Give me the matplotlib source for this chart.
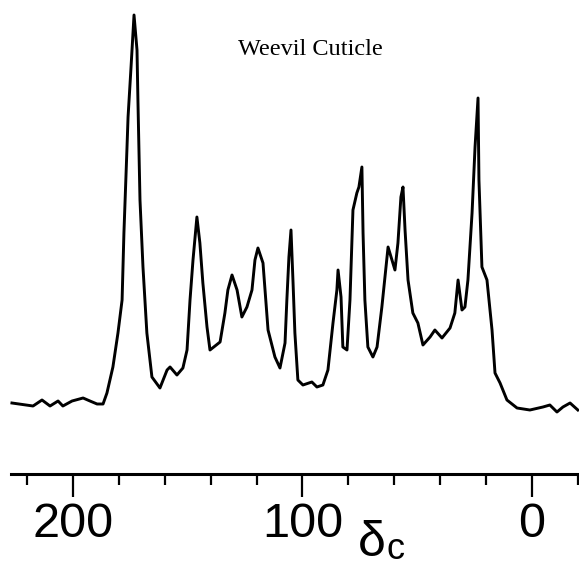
import numpy as np
import matplotlib; matplotlib.use("Agg")
import matplotlib.pyplot as plt
from matplotlib.ticker import MultipleLocator, FixedLocator

# chemical shift (ppm) and signal height (arbitrary units)
ppm = [226.6, 217.4, 213.5, 210.0, 206.5, 204.4, 200.4, 195.6, 192.6, 189.5,
       186.9, 185.2, 182.6, 180.4, 178.6, 177.8, 176.5, 176.0, 174.7, 173.4,
       172.1, 171.7, 170.8, 169.5, 167.8, 165.6, 162.1, 159.0, 157.7, 154.7,
       152.1, 150.3, 149.0, 147.7, 146.0, 144.7, 143.4, 141.6, 140.3, 135.9,
       133.8, 132.5, 130.7, 128.5, 126.4, 124.2, 122.0, 120.7, 119.4, 117.2,
       115.0, 112.0, 109.8, 107.6, 106.8, 105.9, 105.0, 104.1, 103.3, 102.0,
       99.8, 95.9, 93.7, 91.1, 88.9, 86.7, 85.0, 84.5, 83.2, 82.4,
       80.6, 79.3, 78.0, 76.3, 75.4, 74.1, 73.6, 72.8, 71.5, 69.3,
       67.5, 65.4, 62.7, 61.0, 59.7, 58.4, 57.1, 56.2, 55.3, 54.0,
       51.9, 49.7, 47.5, 44.4, 42.3, 39.2, 35.7, 33.6, 32.2, 30.5,
       29.2, 27.9, 26.1, 24.8, 23.5, 23.1, 21.8, 19.6, 17.4, 16.1,
       13.9, 10.9, 6.5, 0.9, -4.8, -7.8, -10.9, -13.5, -16.6, -20.0]
signal = [7, 4, 10, 4, 9, 4, 9, 12, 9, 6,
          6, 17, 43, 77, 110, 177, 260, 293, 343, 395,
          360, 310, 210, 143, 77, 33, 22, 40, 43, 35,
          42, 60, 110, 150, 193, 167, 127, 83, 60, 68,
          97, 120, 135, 120, 93, 103, 120, 150, 162, 147,
          80, 53, 42, 67, 110, 153, 180, 127, 77, 30,
          25, 28, 23, 25, 40, 87, 120, 140, 113, 63,
          60, 110, 200, 217, 223, 243, 177, 110, 63, 53,
          63, 103, 163, 150, 140, 167, 213, 223, 180, 130,
          97, 87, 65, 73, 80, 72, 82, 97, 130, 100,
          103, 130, 197, 263, 312, 230, 143, 130, 80, 37,
          27, 10, 2, 0, 3, 5, -2, 3, 7, 0]

major_ticks = [200, 100, 0]
tick_labels = ["200", "100", "0"]

fig = plt.figure(figsize=(5.79, 5.67), dpi=100)
ax = fig.add_axes([0, 0, 1, 1])
ax.plot(ppm, signal, color="black", lw=2.1, solid_joinstyle="round")

ax.set_xlim(231.8, -20.5)
ax.set_ylim(-157, 410)

for s in ("left", "right", "top"):
    ax.spines[s].set_visible(False)
ax.spines["bottom"].set_position(("data", -64))
ax.spines["bottom"].set_bounds(227, -20.5)
ax.spines["bottom"].set_linewidth(2.2)
ax.set_yticks([])

ax.xaxis.set_major_locator(FixedLocator(major_ticks))
ax.set_xticklabels(tick_labels, family="Liberation Sans", fontsize=35)
ax.xaxis.set_minor_locator(MultipleLocator(20))
ax.tick_params(axis="x", which="major", direction="out", length=16.5, width=1.6, pad=4)
ax.tick_params(axis="x", which="minor", direction="out", length=8, width=1.6)

# axis name: delta with subscript c
fig.text(372 / 579, 1 - 556 / 567, "δ", family="Liberation Sans", fontsize=36,
         ha="center", va="baseline")
fig.text(396 / 579, 1 - 559 / 567, "c", family="Liberation Sans", fontsize=26,
         ha="center", va="baseline")

fig.text(310 / 579, 1 - 55 / 567, "Weevil Cuticle", family="Liberation Serif",
         fontsize=17.5, ha="center", va="baseline")

fig.savefig("out.png", dpi=100)
